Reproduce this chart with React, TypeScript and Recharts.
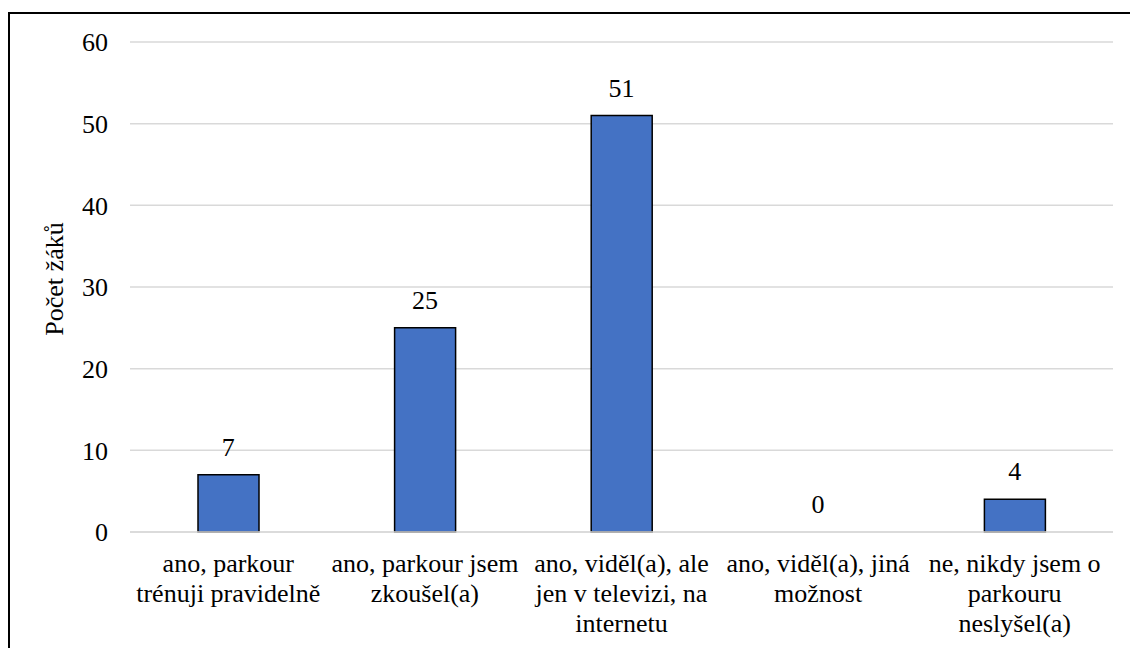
import React from 'react';
import { ComposedChart, Bar, Line, XAxis, YAxis, CartesianGrid, LabelList, Label } from 'recharts';

const categories = [
  'ano, parkour\ntrénuji pravidelně',
  'ano, parkour jsem\nzkoušel(a)',
  'ano, viděl(a), ale\njen v televizi, na\ninternetu',
  'ano, viděl(a), jiná\nmožnost',
  'ne, nikdy jsem o\nparkouru\nneslyšel(a)',
];
const pupils = [7, 25, 51, 0, 4];
const yTicks = [0, 10, 20, 30, 40, 50, 60];

const data = categories.map((name, i) => ({ name, value: pupils[i] }));

const FONT = 'Liberation Serif, serif';
const FS = 26;
const BLUE = '#4472C4';
const GRID = '#d9d9d9';

interface TickProps {
  x?: number;
  y?: number;
  payload?: { value: string };
}

// category labels are pre-broken into lines, centred under each bar
const CategoryTick: React.FC<TickProps> = ({ x = 0, y = 0, payload }) => {
  const lines = (payload?.value ?? '').split('\n');
  return (
    <text x={x} y={y + 32} textAnchor="middle" fill="#000" fontSize={FS} fontFamily={FONT}>
      {lines.map((line, i) => (
        <tspan key={i} x={x} dy={i === 0 ? 0 : 30}>
          {line}
        </tspan>
      ))}
    </text>
  );
};

export default function App() {
  return (
    <div
      style={{
        position: 'fixed',
        left: 0,
        top: 0,
        width: 1130,
        height: 648,
        overflow: 'hidden',
        background: '#fff',
      }}
    >
      {/* frame around the chart, right/bottom edges fall outside */}
      <div
        style={{
          position: 'absolute',
          left: 8,
          top: 12,
          width: 1200,
          height: 700,
          border: '2px solid #000',
        }}
      />
      <div style={{ position: 'absolute', left: 0, top: 0 }}>
        <ComposedChart
          width={1130}
          height={648}
          data={data}
          margin={{ top: 42, right: 17, bottom: 0, left: 0 }}
          barSize={61}
        >
          <CartesianGrid vertical={false} stroke={GRID} strokeWidth={1.5} />
          <XAxis
            dataKey="name"
            interval={0}
            axisLine={{ stroke: GRID, strokeWidth: 1.5 }}
            tickLine={false}
            tick={<CategoryTick />}
            height={116}
          />
          <YAxis
            width={130}
            domain={[0, 60]}
            ticks={yTicks}
            axisLine={false}
            tickLine={false}
            tickSize={0}
            tickMargin={22}
            tick={{ fill: '#000', fontSize: FS, fontFamily: FONT }}
          >
            <Label
              content={(props: any) => {
                const vb = props.viewBox || {};
                const cx = (vb.x ?? 0) + 63;
                const cy = (vb.y ?? 0) + (vb.height ?? 0) / 2 - 8;
                return (
                  <text
                    x={cx}
                    y={cy}
                    transform={`rotate(-90 ${cx} ${cy})`}
                    textAnchor="middle"
                    fill="#000"
                    fontSize={FS}
                    fontFamily={FONT}
                  >
                    Počet žáků
                  </text>
                );
              }}
            />
          </YAxis>
          <Bar dataKey="value" fill={BLUE} stroke="#000" strokeWidth={1.5} isAnimationActive={false} />
          {/* invisible line carries the value labels, so the zero bar gets one too */}
          <Line
            dataKey="value"
            stroke="none"
            dot={false}
            activeDot={false}
            legendType="none"
            isAnimationActive={false}
          >
            <LabelList
              dataKey="value"
              position="top"
              offset={19}
              fill="#000"
              fontSize={FS}
              fontFamily={FONT}
            />
          </Line>
        </ComposedChart>
      </div>
    </div>
  );
}
